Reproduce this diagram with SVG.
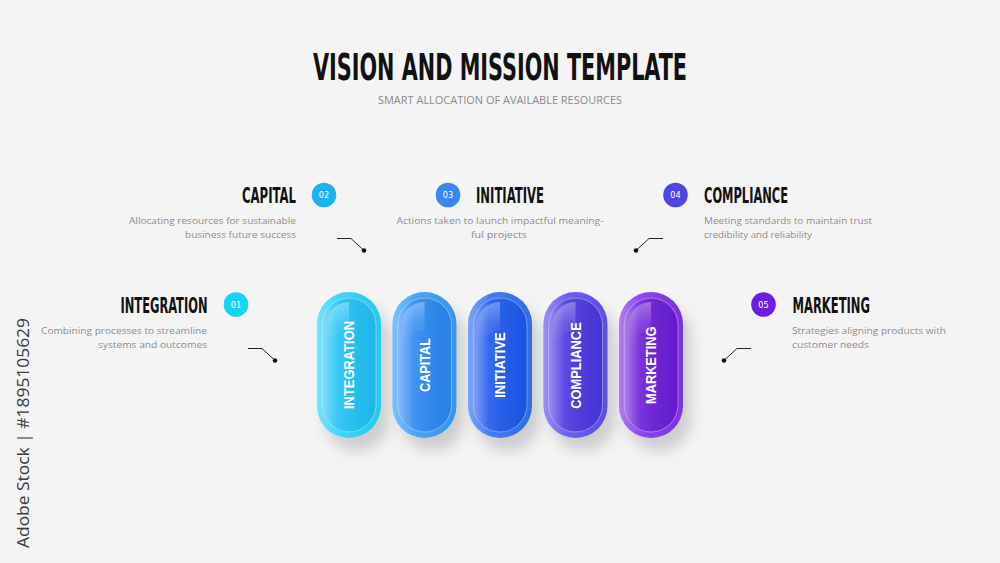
<svg xmlns="http://www.w3.org/2000/svg" width="1000" height="563" viewBox="0 0 1000 563">
<defs>
<style>
.title{font-family:"Liberation Sans Narrow","DejaVu Sans Condensed","Liberation Sans",sans-serif;font-weight:bold;fill:#111;}
.head{font-family:"Liberation Sans Narrow","DejaVu Sans Condensed","Liberation Sans",sans-serif;font-weight:bold;font-size:21px;fill:#111;}
.sub{font-family:"Open Sans","Liberation Sans",sans-serif;font-size:10px;fill:#8a8a8a;}
.desc{font-family:"Open Sans","Liberation Sans",sans-serif;font-size:9.5px;fill:#8c8c8c;}
.num{font-family:"Liberation Sans Narrow","DejaVu Sans Condensed","Liberation Sans",sans-serif;font-size:9px;fill:#fff;text-anchor:middle;}
.pilltxt{font-family:"Liberation Sans","DejaVu Sans",sans-serif;font-weight:bold;font-size:14.5px;fill:#fff;text-anchor:middle;}
.conn{fill:none;stroke:#222;stroke-width:1;}
.dot{fill:#111;}
.wm{font-family:"Open Sans","DejaVu Sans",sans-serif;font-size:17px;fill:#3a3a3a;}
</style>
<linearGradient id="outerShade" x1="0" y1="0" x2="1" y2="0">
<stop offset="0" stop-color="#fff" stop-opacity="0.35"/>
<stop offset="0.35" stop-color="#fff" stop-opacity="0.08"/>
<stop offset="1" stop-color="#000" stop-opacity="0.06"/>
</linearGradient>
<linearGradient id="innerShade" x1="0" y1="0" x2="1" y2="0">
<stop offset="0" stop-color="#fff" stop-opacity="0.45"/>
<stop offset="0.3" stop-color="#fff" stop-opacity="0.1"/>
<stop offset="1" stop-color="#000" stop-opacity="0.05"/>
</linearGradient>
<linearGradient id="gloss" x1="0" y1="0" x2="0" y2="1">
<stop offset="0" stop-color="#fff" stop-opacity="0.55"/>
<stop offset="0.5" stop-color="#fff" stop-opacity="0.15"/>
<stop offset="1" stop-color="#fff" stop-opacity="0"/>
</linearGradient>
<filter id="pillShadow" x="-40%" y="-20%" width="200%" height="150%">
<feDropShadow dx="8" dy="13" stdDeviation="7" flood-color="#000" flood-opacity="0.16"/>
</filter>
</defs>

<rect x="0" y="0" width="1000" height="563" fill="#f4f4f4"/>

<g id="title">
<text class="title" x="500" y="80" font-size="38" text-anchor="middle" textLength="374" lengthAdjust="spacingAndGlyphs">VISION AND MISSION TEMPLATE</text>
<text class="sub" x="500" y="104" text-anchor="middle" textLength="244" lengthAdjust="spacingAndGlyphs">SMART ALLOCATION OF AVAILABLE RESOURCES</text>
</g>

<g id="connectors">
<polyline class="conn" points="337,238.5 351,238.5 364,250.5"/>
<circle class="dot" cx="364" cy="250.5" r="2.3"/>
<polyline class="conn" points="248,348.5 262,348.5 275,360.5"/>
<circle class="dot" cx="275" cy="360.5" r="2.3"/>
<polyline class="conn" points="663,238.5 649,238.5 636,250.5"/>
<circle class="dot" cx="636" cy="250.5" r="2.3"/>
<polyline class="conn" points="751,348.5 737,348.5 724,360.5"/>
<circle class="dot" cx="724" cy="360.5" r="2.3"/>
</g>

<g id="label-capital">
<circle cx="324" cy="195" r="12.3" fill="#1fb2f2"/>
<text class="num" x="324" y="198.2">02</text>
<text class="head" x="242" y="202.5" textLength="54" lengthAdjust="spacingAndGlyphs">CAPITAL</text>
<text class="desc" x="296" y="224" text-anchor="end" textLength="167" lengthAdjust="spacingAndGlyphs">Allocating resources for sustainable</text>
<text class="desc" x="296" y="238" text-anchor="end" textLength="111" lengthAdjust="spacingAndGlyphs">business future success</text>
</g>

<g id="label-initiative">
<circle cx="448" cy="195" r="12.3" fill="#3a86f2"/>
<text class="num" x="448" y="198.2">03</text>
<text class="head" x="476" y="202.5" textLength="68" lengthAdjust="spacingAndGlyphs">INITIATIVE</text>
<text class="desc" x="500" y="224" text-anchor="middle" textLength="207" lengthAdjust="spacingAndGlyphs">Actions taken to launch impactful meaning-</text>
<text class="desc" x="499" y="238" text-anchor="middle" textLength="56" lengthAdjust="spacingAndGlyphs">ful projects</text>
</g>

<g id="label-compliance">
<circle cx="675.5" cy="195" r="12.3" fill="#4f45e2"/>
<text class="num" x="675.5" y="198.2">04</text>
<text class="head" x="704" y="202.5" textLength="84" lengthAdjust="spacingAndGlyphs">COMPLIANCE</text>
<text class="desc" x="704" y="224" textLength="168" lengthAdjust="spacingAndGlyphs">Meeting standards to maintain trust</text>
<text class="desc" x="704" y="238" textLength="108" lengthAdjust="spacingAndGlyphs">credibility and reliability</text>
</g>

<g id="label-integration">
<circle cx="236" cy="304.5" r="12.3" fill="#13d4f2"/>
<text class="num" x="236" y="307.7">01</text>
<text class="head" x="120.5" y="312.5" textLength="87" lengthAdjust="spacingAndGlyphs">INTEGRATION</text>
<text class="desc" x="207" y="334" text-anchor="end" textLength="166" lengthAdjust="spacingAndGlyphs">Combining processes to streamline</text>
<text class="desc" x="207" y="348" text-anchor="end" textLength="109" lengthAdjust="spacingAndGlyphs">systems and outcomes</text>
</g>

<g id="label-marketing">
<circle cx="763.5" cy="304.5" r="12.3" fill="#6a1ee0"/>
<text class="num" x="763.5" y="307.7">05</text>
<text class="head" x="792.5" y="312.5" textLength="77.5" lengthAdjust="spacingAndGlyphs">MARKETING</text>
<text class="desc" x="792" y="334" textLength="154" lengthAdjust="spacingAndGlyphs">Strategies aligning products with</text>
<text class="desc" x="792" y="348" textLength="77" lengthAdjust="spacingAndGlyphs">customer needs</text>
</g>

<g id="pill-integration">
<rect x="317" y="292" width="64" height="146" rx="32" fill="#2fd3fa" filter="url(#pillShadow)"/>
<rect x="317" y="292" width="64" height="146" rx="32" fill="url(#outerShade)"/>
<rect x="322" y="298" width="54" height="134" rx="27" fill="#1fc2f5" stroke="#8eeafd" stroke-opacity="0.7"/>
<rect x="322" y="298" width="54" height="134" rx="27" fill="url(#innerShade)"/>
<path d="M326,325 A23,23 0 0 1 349,302 L349,330 Q335,332 326,345 Z" fill="url(#gloss)" opacity="0.6"/>
<text class="pilltxt" transform="translate(354.3,365) rotate(-90)" textLength="88" lengthAdjust="spacingAndGlyphs">INTEGRATION</text>
</g>

<g id="pill-capital">
<rect x="392.5" y="292" width="64" height="146" rx="32" fill="#3a9ef6" filter="url(#pillShadow)"/>
<rect x="392.5" y="292" width="64" height="146" rx="32" fill="url(#outerShade)"/>
<rect x="397.5" y="298" width="54" height="134" rx="27" fill="#2a88f4" stroke="#9ccbfb" stroke-opacity="0.7"/>
<rect x="397.5" y="298" width="54" height="134" rx="27" fill="url(#innerShade)"/>
<path d="M401.5,325 A23,23 0 0 1 424.5,302 L424.5,330 Q410.5,332 401.5,345 Z" fill="url(#gloss)" opacity="0.6"/>
<text class="pilltxt" transform="translate(429.8,365) rotate(-90)" textLength="54" lengthAdjust="spacingAndGlyphs">CAPITAL</text>
</g>

<g id="pill-initiative">
<rect x="468" y="292" width="64" height="146" rx="32" fill="#3672f0" filter="url(#pillShadow)"/>
<rect x="468" y="292" width="64" height="146" rx="32" fill="url(#outerShade)"/>
<rect x="473" y="298" width="54" height="134" rx="27" fill="#1d58ee" stroke="#94b2f8" stroke-opacity="0.7"/>
<rect x="473" y="298" width="54" height="134" rx="27" fill="url(#innerShade)"/>
<path d="M477,325 A23,23 0 0 1 500,302 L500,330 Q486,332 477,345 Z" fill="url(#gloss)" opacity="0.6"/>
<text class="pilltxt" transform="translate(505.3,365) rotate(-90)" textLength="65.5" lengthAdjust="spacingAndGlyphs">INITIATIVE</text>
</g>

<g id="pill-compliance">
<rect x="543.5" y="292" width="64" height="146" rx="32" fill="#6252ee" filter="url(#pillShadow)"/>
<rect x="543.5" y="292" width="64" height="146" rx="32" fill="url(#outerShade)"/>
<rect x="548.5" y="298" width="54" height="134" rx="27" fill="#4a36e0" stroke="#aea4f6" stroke-opacity="0.7"/>
<rect x="548.5" y="298" width="54" height="134" rx="27" fill="url(#innerShade)"/>
<path d="M552.5,325 A23,23 0 0 1 575.5,302 L575.5,330 Q561.5,332 552.5,345 Z" fill="url(#gloss)" opacity="0.6"/>
<text class="pilltxt" transform="translate(580.8,365.5) rotate(-90)" textLength="86.5" lengthAdjust="spacingAndGlyphs">COMPLIANCE</text>
</g>

<g id="pill-marketing">
<rect x="619" y="292" width="64" height="146" rx="32" fill="#8535ec" filter="url(#pillShadow)"/>
<rect x="619" y="292" width="64" height="146" rx="32" fill="url(#outerShade)"/>
<rect x="624" y="298" width="54" height="134" rx="27" fill="#6a1cd8" stroke="#c29cf6" stroke-opacity="0.7"/>
<rect x="624" y="298" width="54" height="134" rx="27" fill="url(#innerShade)"/>
<path d="M628,325 A23,23 0 0 1 651,302 L651,330 Q637,332 628,345 Z" fill="url(#gloss)" opacity="0.6"/>
<text class="pilltxt" transform="translate(656.3,365.3) rotate(-90)" textLength="77.3" lengthAdjust="spacingAndGlyphs">MARKETING</text>
</g>

<g id="watermark">
<text class="wm" transform="translate(28.5,433) rotate(-90)" text-anchor="middle" textLength="230" lengthAdjust="spacingAndGlyphs">Adobe Stock | #1895105629</text>
</g>
</svg>
